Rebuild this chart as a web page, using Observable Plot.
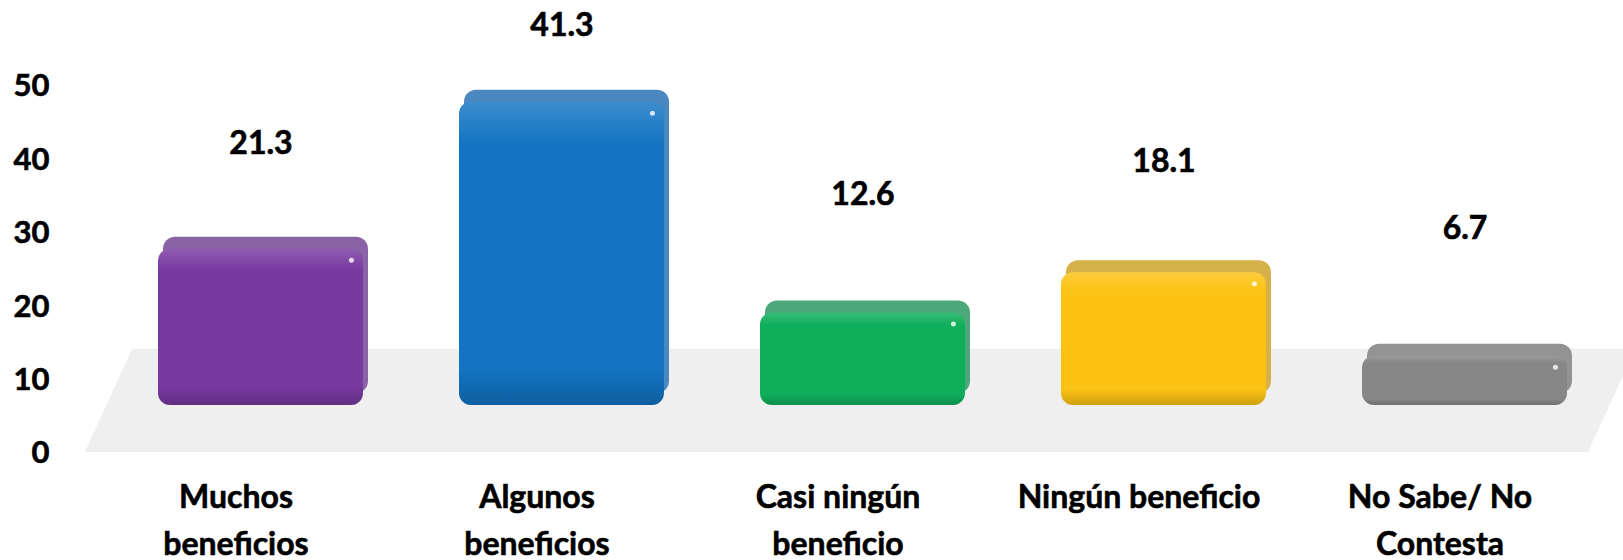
<!DOCTYPE html>
<html>
<head>
<meta charset="utf-8">
<script src="https://cdn.jsdelivr.net/npm/d3@7"></script>
<script src="https://cdn.jsdelivr.net/npm/@observablehq/plot@0.6"></script>
<style>
  html, body { margin: 0; padding: 0; background: #fff; }
  #chart svg { display: block; }
</style>
</head>
<body>
<div id="chart"></div>
<script>
// ---- data ----
const categories = ["Muchos beneficios", "Algunos beneficios", "Casi ningún beneficio", "Ningún beneficio", "No Sabe/ No Contesta"];
const tickLabels = ["Muchos\nbeneficios", "Algunos\nbeneficios", "Casi ningún\nbeneficio", "Ningún beneficio", "No Sabe/ No\nContesta"];
const values = [21.3, 41.3, 12.6, 18.1, 6.7];
const yTicks = [0, 10, 20, 30, 40, 50];

// ---- style ----
const frontColors = ["#7839A0", "#1274C2", "#0FAE5B", "#FCC314", "#878787"];
const backColors  = ["#8A62A6", "#4B88C0", "#4CA77A", "#D6B14A", "#939393"];
const FONT = "Lato, 'Liberation Sans', sans-serif";

const W = 1623, H = 560;
const ML = 157, MR = 56, MT = 86, MB = 107;
const PAD = 0.32;
const step = (W - ML - MR) / (categories.length - PAD);
const bw = step * (1 - PAD);
const LIFT = -48, DEPTH_X = 5, DEPTH_Y = -12, RADIUS = 12;
const LABEL_PROJ = 0.8, LABEL_DY = -185;

const data = categories.map((c, i) => ({category: c, value: values[i]}));

const marks = [];
data.forEach((d, i) => marks.push(Plot.barY([d], {
  x: "category", y: "value", fill: backColors[i], dx: DEPTH_X, dy: LIFT + DEPTH_Y, rx: RADIUS
})));
data.forEach((d, i) => marks.push(Plot.barY([d], {
  x: "category", y: "value", fill: frontColors[i], dy: LIFT, rx: RADIUS
})));
marks.push(Plot.barY(data, {x: "category", y: "value", fill: "url(#gloss)", dy: LIFT, rx: RADIUS}));
marks.push(Plot.dot(data, {x: "category", y: "value", dx: bw / 2 - 12, dy: LIFT + 11, r: 2.5, fill: "#fff", fillOpacity: 0.8, stroke: "none"}));
marks.push(Plot.text(data, {
  x: "category", y: d => d.value * LABEL_PROJ, text: d => d.value.toFixed(1),
  dy: LABEL_DY, fontSize: 32, fontWeight: "bold", fill: "#000"
}));
marks.push(Plot.axisY({ticks: yTicks, tickSize: 0, tickPadding: ML - 49, fontSize: 31, fontWeight: "bold", fill: "#000", label: null}));
marks.push(Plot.axisX({
  tickSize: 0, tickPadding: 22, dx: -25, fontSize: 32, fontWeight: "bold", fill: "#000",
  lineHeight: 1.45, label: null,
  tickFormat: c => tickLabels[categories.indexOf(c)]
}));

const plot = Plot.plot({
  width: W, height: H,
  marginLeft: ML, marginRight: MR, marginTop: MT, marginBottom: MB,
  style: {fontFamily: FONT, background: "#fff", overflow: "visible"},
  x: {domain: categories, paddingInner: PAD, paddingOuter: 0},
  y: {domain: [0, 50]},
  marks
});

const svg = d3.select(plot);
// gloss gradient for the front faces
const defs = svg.insert("defs", ":first-child");
const g = defs.append("linearGradient").attr("id", "gloss").attr("x1", 0).attr("y1", 0).attr("x2", 0).attr("y2", 1);
[[0, "#fff", 0.18], [0.06, "#fff", 0.1], [0.14, "#fff", 0], [0.88, "#000", 0], [1, "#000", 0.18]]
  .forEach(([o, c, a]) => g.append("stop").attr("offset", o).attr("stop-color", c).attr("stop-opacity", a));

// 3D floor derived from the scales
const xs = plot.scale("x"), ys = plot.scale("y");
const yb = ys.apply(0) - 1, yt = ys.apply(14.2);
const skew = 0.46;
const xl = xs.range[0] - 0.24 * step, xr = xs.range[1] + 0.07 * step;
svg.insert("polygon", "defs + *")
  .attr("points", [[xl, yb], [xl + (yb - yt) * skew, yt], [xr + (yb - yt) * skew, yt], [xr, yb]].map(p => p.join(",")).join(" "))
  .attr("fill", "#EFEFEF");

// slightly heavier text, closer to the reference's bold face
svg.selectAll("text").attr("stroke", "#000").attr("stroke-width", 0.6).attr("paint-order", "fill");

document.getElementById("chart").appendChild(plot);
</script>
</body>
</html>
